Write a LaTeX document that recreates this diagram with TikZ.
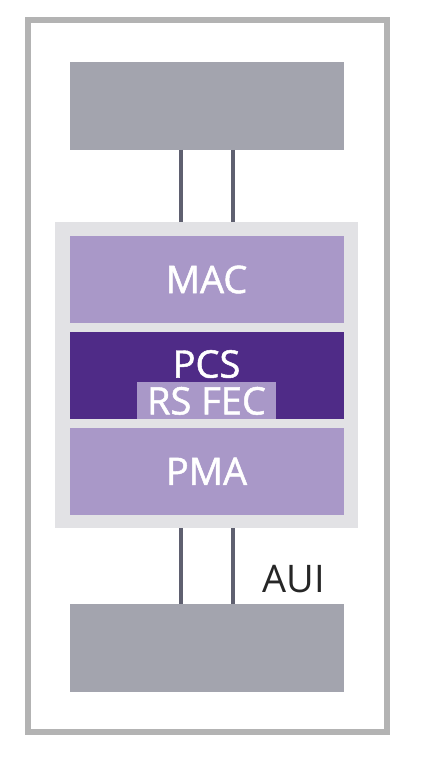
\documentclass[tikz,border=0pt]{standalone}
\usepackage{fontspec}
\setsansfont{Open Sans}
\newfontfamily\layerfont[FakeBold=1.3]{Open Sans}
\usetikzlibrary{positioning}
\definecolor{framegrey}{HTML}{B3B3B3}
\definecolor{devgrey}{HTML}{A3A4AE}
\definecolor{lanegrey}{HTML}{5F6070}
\definecolor{stackgrey}{HTML}{E2E2E5}
\definecolor{layerlilac}{HTML}{A998C8}
\definecolor{pcsviolet}{HTML}{4F2B87}

\begin{document}
\begin{tikzpicture}[
      x=1pt,y=1pt,
      devbox/.style={fill=devgrey,minimum width=274pt,minimum height=88pt,inner sep=0pt},
      stackbox/.style={fill=stackgrey,minimum width=303pt,minimum height=306pt,inner sep=0pt},
      layer/.style={minimum width=274pt,minimum height=87pt,inner sep=0pt,text=white,font=\layerfont\fontsize{38}{40}\selectfont},
      fecbox/.style={fill=layerlilac,minimum width=139pt,minimum height=37pt,inner sep=0pt,text=white,font=\layerfont\fontsize{38}{40}\selectfont},
      lane/.style={lanegrey,line width=4pt},
      aui/.style={inner sep=0pt,text=black!85,font=\sffamily\fontsize{38}{40}\selectfont}
    ]
    \useasboundingbox (0,0) rectangle (422,764);
    \draw[framegrey,line width=6pt] (28,32) rectangle (387,744);

    \node[stackbox] (stack) at (206.5,389) {};
    \node[layer,fill=layerlilac,below=14pt of stack.north] (mac) {MAC};
    \node[layer,fill=pcsviolet,below=9pt of mac] (pcs) {};
    \node[layer,fill=layerlilac,below=8pt of pcs] (pma) {PMA};
    \node[fecbox,above=0pt of pcs.south] (rsfec) {RS FEC};
    \node[layer,minimum width=0pt,minimum height=0pt,above=4pt of rsfec] (pcsname) {PCS};

    \node[devbox,above=72pt of stack] (host) {};
    \node[devbox,below=76pt of stack] (phy) {};

    % two lanes above and below the stack
    \draw[lane] ([xshift=-26pt]host.south) -- ([xshift=-26pt]stack.north);
    \draw[lane] ([xshift=26pt]host.south) -- ([xshift=26pt]stack.north);
    \draw[lane] ([xshift=-26pt]stack.south) -- ([xshift=-26pt]phy.north);
    \draw[lane] ([xshift=26pt]stack.south) -- ([xshift=26pt]phy.north);

    \node[aui,above right=11pt and 56pt of phy.north] (auiname) {AUI};
\end{tikzpicture}
\end{document}
